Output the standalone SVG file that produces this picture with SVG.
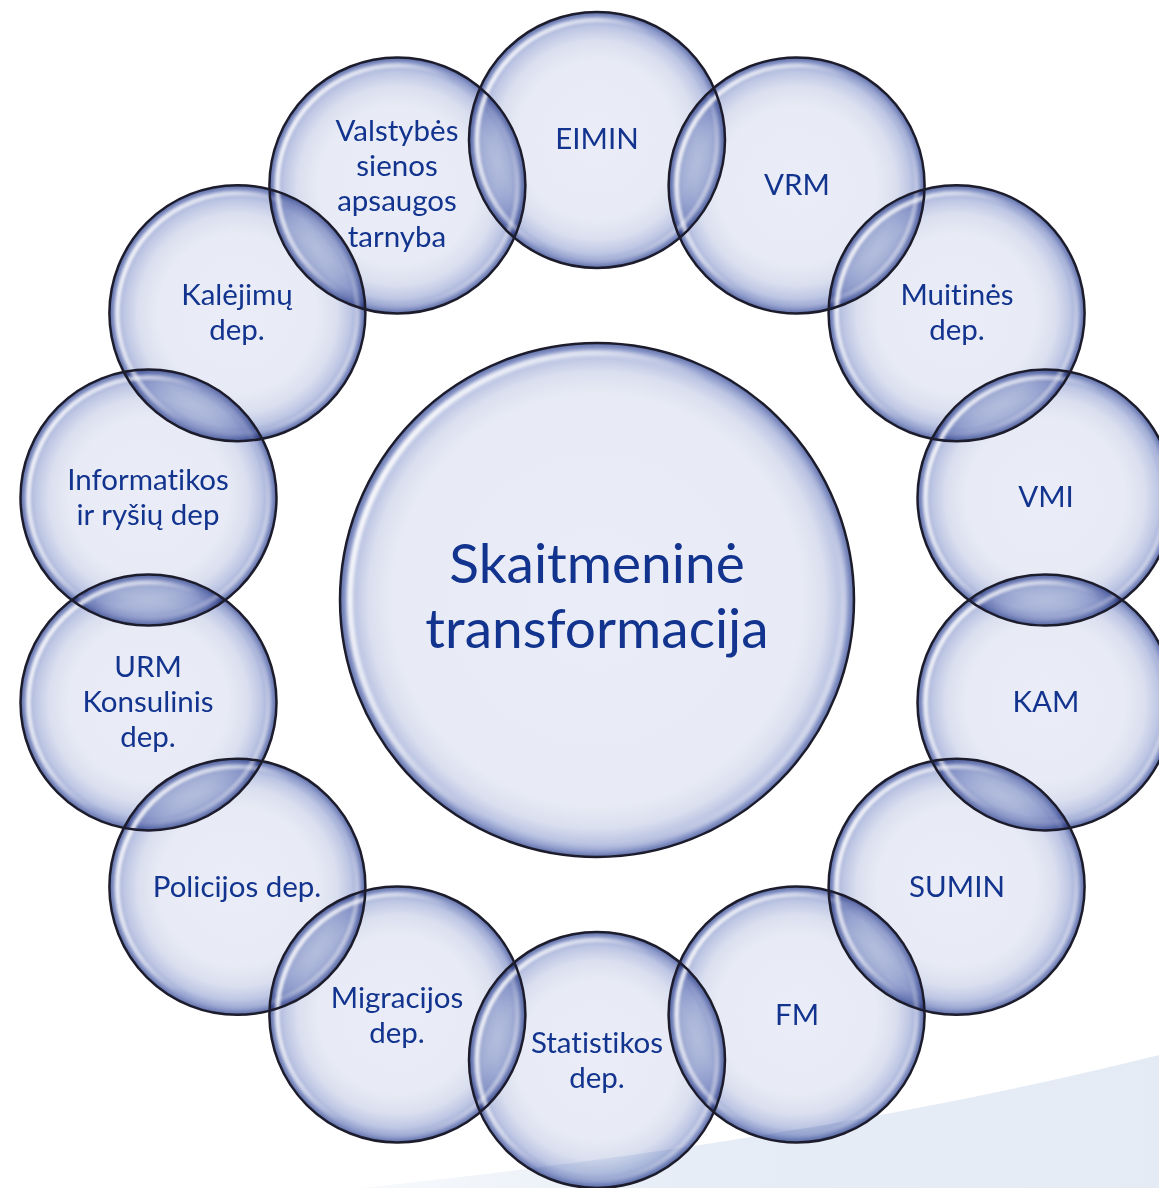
<svg xmlns="http://www.w3.org/2000/svg" width="1159" height="1188" viewBox="0 0 1159 1188">
<defs>
<radialGradient id="bub" cx="50%" cy="50%" r="50%">
<stop offset="0" stop-color="#eaedf7"/>
<stop offset="0.62" stop-color="#e8ebf5"/>
<stop offset="0.78" stop-color="#dadfef"/>
<stop offset="0.89" stop-color="#bcc5e3"/>
<stop offset="0.96" stop-color="#8b98c9"/>
<stop offset="1" stop-color="#5e6fa8"/>
</radialGradient>
<radialGradient id="bubc" cx="50%" cy="50%" r="50%">
<stop offset="0" stop-color="#eaedf7"/>
<stop offset="0.8" stop-color="#e8ebf5"/>
<stop offset="0.89" stop-color="#dadfef"/>
<stop offset="0.945" stop-color="#bcc5e3"/>
<stop offset="0.98" stop-color="#8b98c9"/>
<stop offset="1" stop-color="#5e6fa8"/>
</radialGradient>
<linearGradient id="glint" x1="0" y1="0.25" x2="1" y2="0.75">
<stop offset="0" stop-color="#fff" stop-opacity="0.95"/>
<stop offset="0.3" stop-color="#fff" stop-opacity="0.6"/>
<stop offset="0.5" stop-color="#fff" stop-opacity="0"/>
<stop offset="0.8" stop-color="#fff" stop-opacity="0.15"/>
<stop offset="1" stop-color="#fff" stop-opacity="0.6"/>
</linearGradient>
<linearGradient id="bg" x1="0" y1="0" x2="1" y2="0">
<stop offset="0" stop-color="#e6edf6" stop-opacity="0.3"/>
<stop offset="0.4" stop-color="#e6edf6"/>
<stop offset="1" stop-color="#e4ebf5"/>
</linearGradient>
<filter id="soft" x="-10%" y="-10%" width="120%" height="120%">
<feGaussianBlur stdDeviation="1.5"/>
</filter>
</defs>
<style>
.b{fill:url(#bub);mix-blend-mode:multiply}
.o{fill:none;stroke:#1c1c2c;stroke-width:2.5}
.g{fill:none;stroke:url(#glint);filter:url(#soft)}
text{font-family:Lato,"Open Sans",sans-serif;fill:#12348f;text-anchor:middle;font-variant-ligatures:none;font-feature-settings:"liga" 0,"dlig" 0}
.t{font-size:29.5px}
.c{font-size:55px}
</style>
<rect width="1159" height="1188" fill="#fff"/>
<g id="background">
<path d="M360,1188 Q820,1140 1159,1055 L1159,1188 Z" fill="url(#bg)"/>
</g>
<g id="connectors"/>
<g id="bubbles">
<circle cx="597" cy="600" r="257" fill="url(#bubc)" style="mix-blend-mode:multiply"/>
<circle class="b" cx="597" cy="140" r="128"/>
<circle class="b" cx="796.6" cy="185.5" r="128"/>
<circle class="b" cx="956.6" cy="313.2" r="128"/>
<circle class="b" cx="1045.5" cy="497.6" r="128"/>
<circle class="b" cx="1045.5" cy="702.4" r="128"/>
<circle class="b" cx="956.6" cy="886.8" r="128"/>
<circle class="b" cx="796.6" cy="1014.5" r="128"/>
<circle class="b" cx="597" cy="1060" r="128"/>
<circle class="b" cx="397.4" cy="1014.5" r="128"/>
<circle class="b" cx="237.4" cy="886.8" r="128"/>
<circle class="b" cx="148.5" cy="702.4" r="128"/>
<circle class="b" cx="148.5" cy="497.6" r="128"/>
<circle class="b" cx="237.4" cy="313.2" r="128"/>
<circle class="b" cx="397.4" cy="185.5" r="128"/>
</g>
<g id="glints">
<circle class="g" cx="597" cy="600" r="247" stroke-width="6"/>
<circle class="g" cx="597" cy="140" r="120" stroke-width="4.5"/>
<circle class="g" cx="796.6" cy="185.5" r="120" stroke-width="4.5"/>
<circle class="g" cx="956.6" cy="313.2" r="120" stroke-width="4.5"/>
<circle class="g" cx="1045.5" cy="497.6" r="120" stroke-width="4.5"/>
<circle class="g" cx="1045.5" cy="702.4" r="120" stroke-width="4.5"/>
<circle class="g" cx="956.6" cy="886.8" r="120" stroke-width="4.5"/>
<circle class="g" cx="796.6" cy="1014.5" r="120" stroke-width="4.5"/>
<circle class="g" cx="597" cy="1060" r="120" stroke-width="4.5"/>
<circle class="g" cx="397.4" cy="1014.5" r="120" stroke-width="4.5"/>
<circle class="g" cx="237.4" cy="886.8" r="120" stroke-width="4.5"/>
<circle class="g" cx="148.5" cy="702.4" r="120" stroke-width="4.5"/>
<circle class="g" cx="148.5" cy="497.6" r="120" stroke-width="4.5"/>
<circle class="g" cx="237.4" cy="313.2" r="120" stroke-width="4.5"/>
<circle class="g" cx="397.4" cy="185.5" r="120" stroke-width="4.5"/>
</g>
<g id="center">
<circle class="o" cx="597" cy="600" r="257"/>
<text class="c" x="597" y="583">Skaitmeninė</text>
<text class="c" x="597" y="648">transformacija</text>
</g>
<g id="eimin"><circle class="o" cx="597" cy="140" r="128"/><text class="t" x="597" y="149">EIMIN</text></g>
<g id="vrm"><circle class="o" cx="796.6" cy="185.5" r="128"/><text class="t" x="797" y="195">VRM</text></g>
<g id="muitines"><circle class="o" cx="956.6" cy="313.2" r="128"/><text class="t" x="957" y="305">Muitinės</text><text class="t" x="957" y="340">dep.</text></g>
<g id="vmi"><circle class="o" cx="1045.5" cy="497.6" r="128"/><text class="t" x="1046" y="507">VMI</text></g>
<g id="kam"><circle class="o" cx="1045.5" cy="702.4" r="128"/><text class="t" x="1046" y="712">KAM</text></g>
<g id="sumin"><circle class="o" cx="956.6" cy="886.8" r="128"/><text class="t" x="957" y="897">SUMIN</text></g>
<g id="fm"><circle class="o" cx="796.6" cy="1014.5" r="128"/><text class="t" x="797" y="1025">FM</text></g>
<g id="statistikos"><circle class="o" cx="597" cy="1060" r="128"/><text class="t" x="597" y="1053">Statistikos</text><text class="t" x="597" y="1088">dep.</text></g>
<g id="migracijos"><circle class="o" cx="397.4" cy="1014.5" r="128"/><text class="t" x="397" y="1008">Migracijos</text><text class="t" x="397" y="1043">dep.</text></g>
<g id="policijos"><circle class="o" cx="237.4" cy="886.8" r="128"/><text class="t" x="237" y="897">Policijos dep.</text></g>
<g id="urm"><circle class="o" cx="148.5" cy="702.4" r="128"/><text class="t" x="148" y="677">URM</text><text class="t" x="148" y="712">Konsulinis</text><text class="t" x="148" y="747">dep.</text></g>
<g id="informatikos"><circle class="o" cx="148.5" cy="497.6" r="128"/><text class="t" x="148" y="490">Informatikos</text><text class="t" x="148" y="525">ir ryšių dep</text></g>
<g id="kalejimu"><circle class="o" cx="237.4" cy="313.2" r="128"/><text class="t" x="237" y="305">Kalėjimų</text><text class="t" x="237" y="340">dep.</text></g>
<g id="valstybes"><circle class="o" cx="397.4" cy="185.5" r="128"/><text class="t" x="397" y="141">Valstybės</text><text class="t" x="397" y="176">sienos</text><text class="t" x="397" y="211">apsaugos</text><text class="t" x="397" y="247">tarnyba</text></g>
</svg>
